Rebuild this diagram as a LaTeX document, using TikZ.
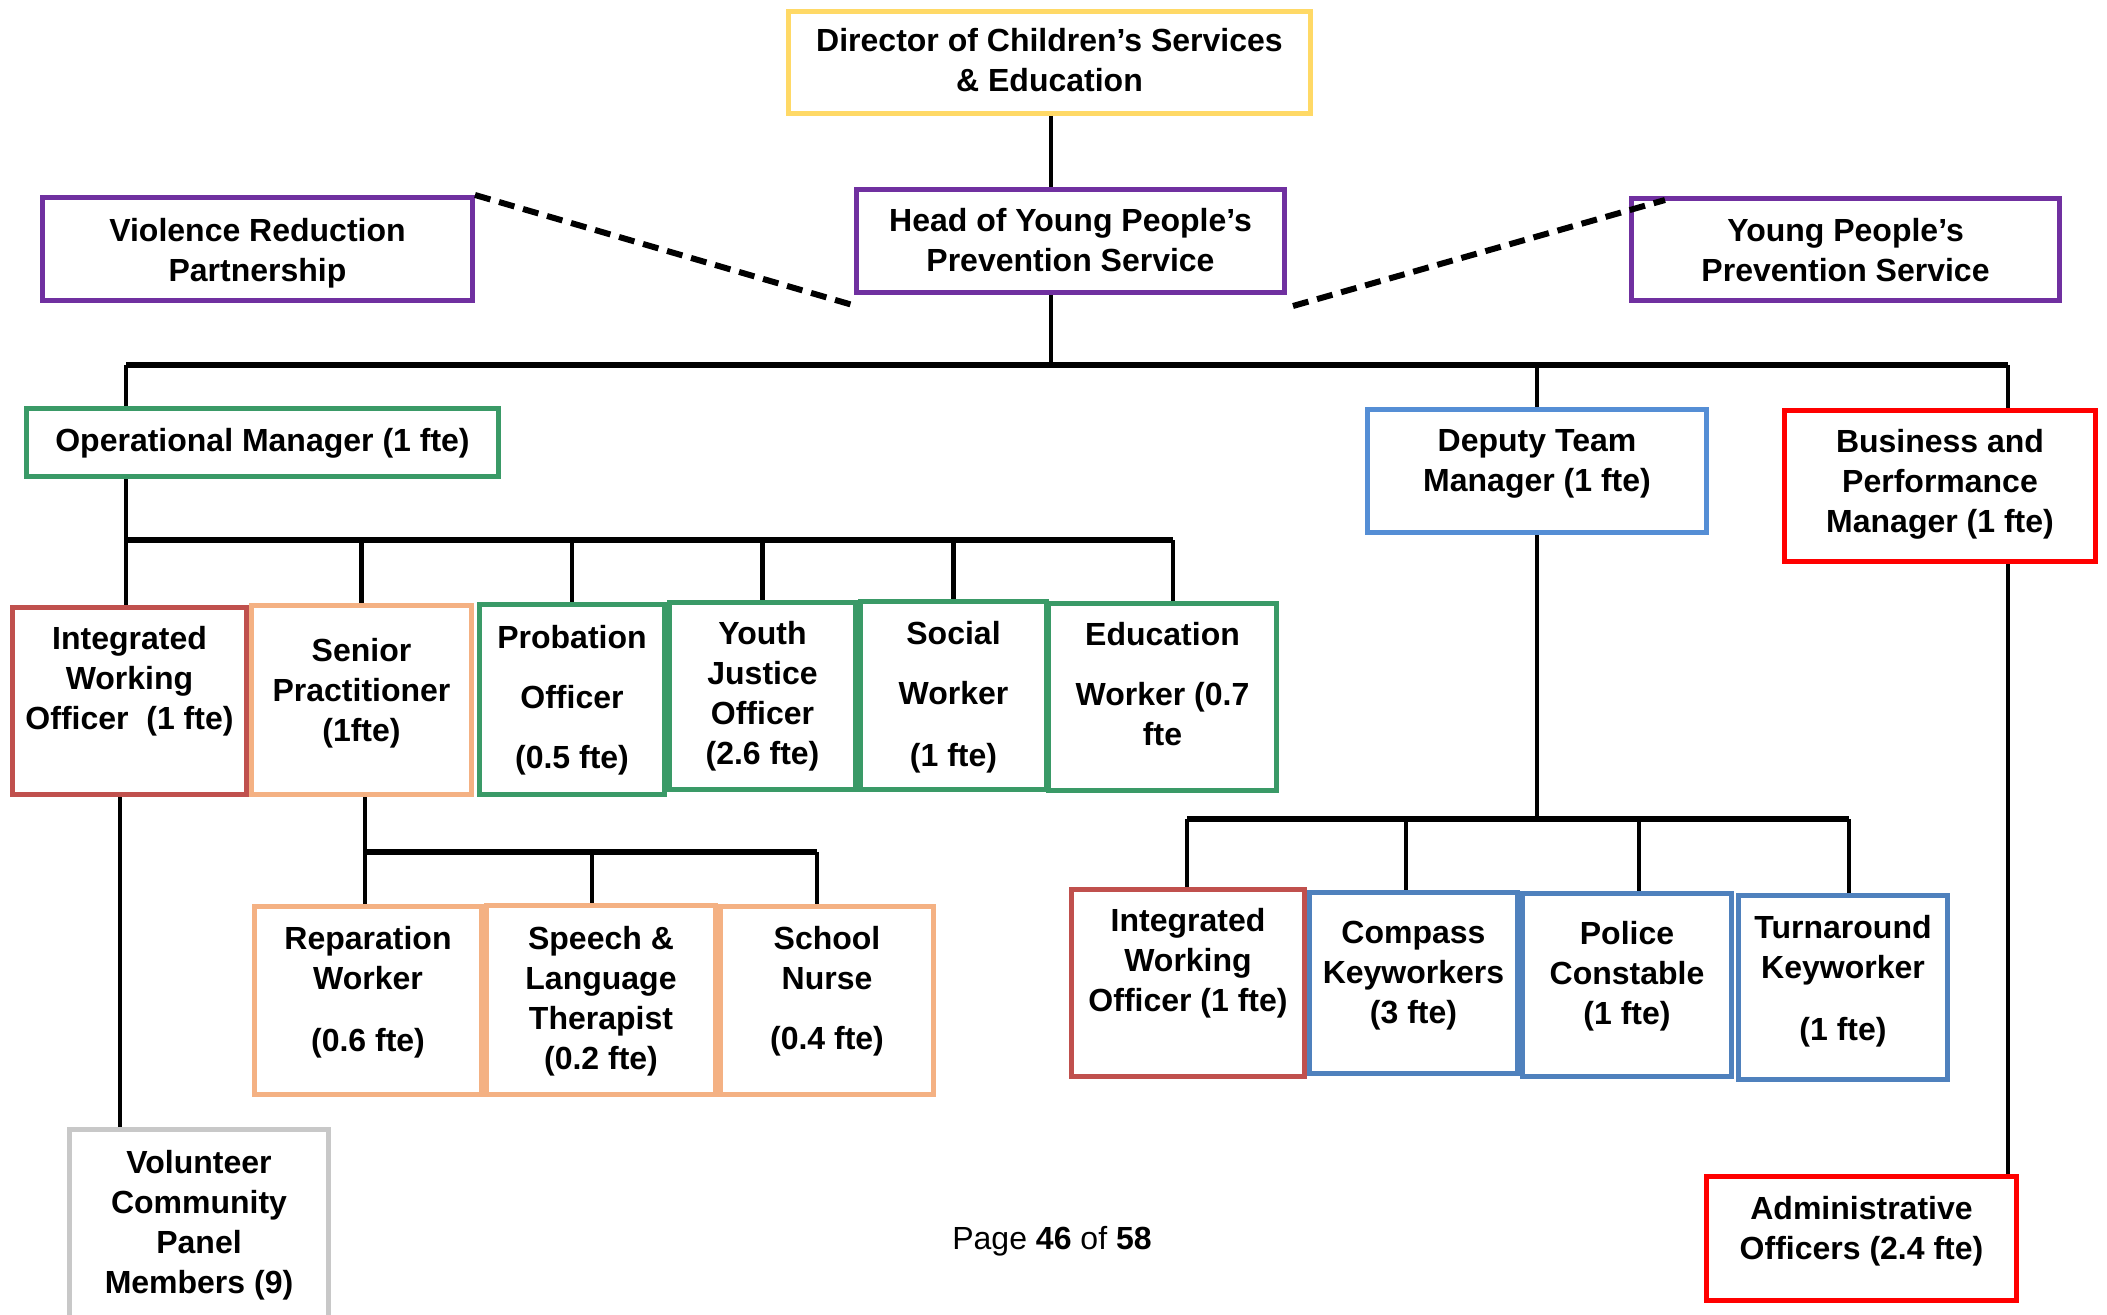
\documentclass[tikz,border=0pt]{standalone}
\usepackage{fontspec}
\setmainfont{Liberation Sans}
\definecolor{cyellow}{HTML}{FFD966}
\definecolor{cpurple}{HTML}{7030A0}
\definecolor{cgreen}{HTML}{3A9A67}
\definecolor{cred}{HTML}{FF0000}
\definecolor{cbrick}{HTML}{C0504D}
\definecolor{cpeach}{HTML}{F4B183}
\definecolor{cblue}{HTML}{4F81BD}
\definecolor{cblueL}{HTML}{558ED5}
\definecolor{cgrey}{HTML}{C8C8C8}
\begin{document}
\begin{tikzpicture}[x=0.5pt,y=-0.5pt,
  box/.style={draw=#1, line width=2.5pt, inner sep=0pt},
  sz/.style 2 args={minimum width=#1pt, minimum height=#2pt},
  lbl/.style={anchor=north, inner sep=0pt, align=center,
    font=\bfseries\fontsize{16}{20}\selectfont, execute at begin node=\strut},
  conn/.style={line width=2.2pt},
  busline/.style={line width=3pt},
  dashline/.style={line width=3pt, dash pattern=on 8pt off 4.5pt}]
\clip (0,0) rectangle (2107,1315);
\fill[white] (0,0) rectangle (2107,1315);

% ---- boxes
\node[box=cyellow, sz={261}{51}] (dir) at (1049.5,62.5) {};
\node[box=cpurple, sz={214}{51.5}] (head) at (1070.5,241) {};
\node[box=cpurple, sz={215}{51.5}] (vrp) at (257.5,249) {};
\node[box=cpurple, sz={214}{51}] (ypps) at (1845.5,249.5) {};
\node[box=cgreen, sz={236}{34}] (om) at (262.5,442.5) {};
\node[box=cblueL, sz={169.5}{61.5}] (dtm) at (1537,471) {};
\node[box=cred, sz={155.5}{75.5}] (bpm) at (1940,486) {};

\node[box=cpeach, sz={110}{94.5}] (sp) at (361.5,700) {};
\node[box=cbrick, sz={117}{93.5}] (iwo) at (129.5,701) {};
\node[box=cgreen, sz={92.5}{95}] (prob) at (572,699.5) {};
\node[box=cgreen, sz={93}{93.5}] (yj) at (762.5,696) {};
\node[box=cgreen, sz={93}{94}] (sw) at (953.5,695.5) {};
\node[box=cgreen, sz={114}{93.5}] (edu) at (1162.5,697) {};

\node[box=cpeach, sz={113.5}{94}] (rep) at (368,1000.5) {};
\node[box=cpeach, sz={114.5}{94.5}] (slt) at (601,1000) {};
\node[box=cpeach, sz={106.5}{94}] (sn) at (827,1000.5) {};
\node[box=cgrey, sz={129.5}{134}] (vol) at (199,1263.5) {};

\node[box=cblue, sz={104}{90.5}] (cmp) at (1413.5,983) {};
\node[box=cblue, sz={104.5}{91.5}] (pc) at (1627,985) {};
\node[box=cblue, sz={104.5}{92}] (ta) at (1843,987.5) {};
\node[box=cbrick, sz={116.5}{93.5}] (iwo2) at (1188,983) {};
\node[box=cred, sz={155}{62}] (adm) at (1861.5,1238.5) {};

% ---- texts
\node[lbl] (t-dir) at (1049.5,28) {Director of Children’s Services\\\& Education};
\node[lbl] (t-head) at (1070.5,208) {Head of Young People’s\\Prevention Service};
\node[lbl] (t-vrp) at (257.5,218) {Violence Reduction\\Partnership};
\node[lbl] (t-ypps) at (1845.5,218) {Young People’s\\Prevention Service};
\node[lbl] (t-om) at (262.5,423) {Operational Manager (1 fte)};
\node[lbl] (t-dtm) at (1537,429) {Deputy Team\\Manager (1 fte)};
\node[lbl] (t-bpm) at (1940,429) {Business and\\Performance\\Manager (1 fte)};
\node[lbl] (t-iwo) at (129.5,626) {Integrated\\Working\\Officer\ \ (1 fte)};
\node[lbl] (t-sp) at (361.5,638) {Senior\\Practitioner\\(1fte)};
\node[lbl] (t-prob) at (572,625) {Probation\\[10pt]Officer\\[10pt](0.5 fte)};
\node[lbl] (t-yj) at (762.5,621) {Youth\\Justice\\Officer\\(2.6 fte)};
\node[lbl] (t-sw) at (953.5,621) {Social\\[10pt]Worker\\[11pt](1 fte)};
\node[lbl] (t-edu) at (1162.5,622) {Education\\[10pt]Worker (0.7\\fte};
\node[lbl] (t-rep) at (368,926) {Reparation\\Worker\\[11pt](0.6 fte)};
\node[lbl] (t-slt) at (601,926) {Speech \&\\Language\\Therapist\\(0.2 fte)};
\node[lbl] (t-sn) at (827,926) {School\\Nurse\\[10pt](0.4 fte)};
\node[lbl] (t-vol) at (199,1150) {Volunteer\\Community\\Panel\\Members (9)};
\node[lbl] (t-iwo2) at (1188,908) {Integrated\\Working\\Officer (1 fte)};
\node[lbl] (t-cmp) at (1413.5,921) {Compass\\Keyworkers\\(3 fte)};
\node[lbl] (t-pc) at (1627,921) {Police\\Constable\\(1 fte)};
\node[lbl] (t-ta) at (1843,915) {Turnaround\\Keyworker\\[11pt](1 fte)};
\node[lbl] (t-adm) at (1861.5,1196) {Administrative\\Officers (2.4 fte)};
\node[lbl, font=\fontsize{16}{20}\selectfont] (t-page) at (1052,1221) {Page \textbf{46} of \textbf{58}};

% ---- junction coordinates
\coordinate (j0) at (1051,365);
\coordinate (busL) at (126,365);
\coordinate (busR) at (2008,365);
\coordinate (b2L) at (126,540);
\coordinate (b2R) at (1173,540);
\coordinate (cv) at (120,0);
\coordinate (b3L) at (365,852);
\coordinate (b3M) at (592,852);
\coordinate (b3R) at (817,852);
\coordinate (b4L) at (1187,819);
\coordinate (b4A) at (1406,819);
\coordinate (b4B) at (1639,819);
\coordinate (b4R) at (1849,819);
\coordinate (dL) at (856,306);
\coordinate (dR) at (1293,306);
\coordinate (dRe) at (1665,200);

% ---- connectors
\draw[conn] (dir.south -| j0) -- (head.north -| j0);
\draw[conn] (head.south -| j0) -- (j0);
\draw[busline] (busL) -- (busR);
\draw[conn] (busL) -- (busL |- om.north);
\draw[conn] (j0 -| dtm.north) -- (dtm.north);
\draw[conn] (busR) -- (busR |- bpm.north);

\draw[conn] (om.south -| b2L) -- (b2L |- iwo.north);
\draw[busline] (b2L) -- (b2R);
\draw[conn] (b2L -| sp.north) -- (sp.north);
\draw[conn] (b2L -| prob.north) -- (prob.north);
\draw[conn] (b2L -| yj.north) -- (yj.north);
\draw[conn] (b2L -| sw.north) -- (sw.north);
\draw[conn] (b2R) -- (b2R |- edu.north);

\draw[conn] (iwo.south -| cv) -- (vol.north -| cv);

\draw[conn] (sp.south -| b3L) -- (b3L);
\draw[busline] (b3L) -- (b3R);
\draw[conn] (b3L) -- (b3L |- rep.north);
\draw[conn] (b3M) -- (b3M |- slt.north);
\draw[conn] (b3R) -- (b3R |- sn.north);

\draw[conn] (dtm.south) -- (dtm.south |- b4L);
\draw[busline] (b4L) -- (b4R);
\draw[conn] (b4L) -- (b4L |- iwo2.north);
\draw[conn] (b4A) -- (b4A |- cmp.north);
\draw[conn] (b4B) -- (b4B |- pc.north);
\draw[conn] (b4R) -- (b4R |- ta.north);

\draw[conn] (bpm.south -| busR) -- (adm.north -| busR);

\draw[dashline] (vrp.north east) -- (dL);
\draw[dashline] (dR) -- (dRe);
\end{tikzpicture}
\end{document}
